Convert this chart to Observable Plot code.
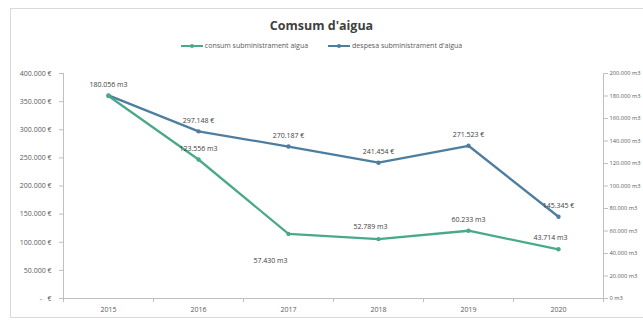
<!DOCTYPE html>
<html>
<head>
<meta charset="utf-8">
<script src="https://cdn.jsdelivr.net/npm/d3@7"></script>
<script src="https://cdn.jsdelivr.net/npm/@observablehq/plot@0.6"></script>
<style>
  body { margin: 0; background: #fff; font-family: "Open Sans", sans-serif; }
  #wrap { position: relative; width: 643px; height: 325px; overflow: hidden; }
  #frame { position: absolute; left: 10px; top: 8px; width: 640px; height: 310px; border: 1px solid #d9d9d9; box-sizing: border-box; }
  #title { position: absolute; left: 0; width: 643px; top: 17px; text-align: center; font-size: 12.5px; font-weight: bold; color: #404040; }
  #legend { position: absolute; top: 41px; left: 0; width: 643px; display: flex; justify-content: center; gap: 20px; font-size: 7px; color: #595959; }
  #legend span { display: inline-flex; align-items: center; }
  #chart { position: absolute; left: 0; top: 58px; }
</style>
</head>
<body>
<div id="wrap">
  <div id="frame"></div>
  <div id="title">Comsum d'aigua</div>
  <div id="legend"></div>
  <div id="chart"></div>
</div>
<script>
const years = [2015, 2016, 2017, 2018, 2019, 2020];
const consum = [180056, 123556, 57430, 52789, 60233, 43714];      // m3 (right axis)
const despesa = [361096, 297148, 270187, 241454, 271523, 145345]; // € (left axis)
const seriesNames = ["consum subministrament aigua", "despesa subministrament d'aigua"];
const colors = ["#4aa98b", "#4d7e9f"];
const leftTicks = [0, 50000, 100000, 150000, 200000, 250000, 300000, 350000, 400000];
const rightTicks = [0, 20000, 40000, 60000, 80000, 100000, 120000, 140000, 160000, 180000, 200000];

const loc = d3.formatLocale({decimal: ",", thousands: ".", grouping: [3], currency: ["", " €"]});
const fmt = loc.format(",d");
const ratio = 2; // 200.000 m3 on right axis = 400.000 € on left axis

const green = years.map((y, i) => ({year: y, v: consum[i] * ratio, label: fmt(consum[i]) + " m3"}));
const blue = years.map((y, i) => ({year: y, v: despesa[i], label: fmt(despesa[i]) + " €"}));

// legend
const leg = document.getElementById("legend");
seriesNames.forEach((n, i) => {
  const s = document.createElement("span");
  s.innerHTML = `<svg width="22" height="8"><line x1="0" y1="4" x2="22" y2="4" stroke="${colors[i]}" stroke-width="2"/><circle cx="11" cy="4" r="2" fill="${colors[i]}"/></svg><span style="margin-left:2px">${n}</span>`;
  leg.appendChild(s);
});

const lbl = {fontSize: 7, fill: "#404040", fontFamily: "Open Sans"};
const halfYears = d3.range(years[0] - 0.5, years[years.length - 1] + 1, 1);

const plot = Plot.plot({
  width: 643, height: 267,
  marginLeft: 63, marginRight: 40, marginTop: 15, marginBottom: 27,
  style: {fontFamily: "Open Sans", fontSize: "7px", color: "#595959", background: "transparent"},
  x: {domain: [years[0] - 0.5, years[years.length - 1] + 0.5], label: null},
  y: {domain: [0, 400000], label: null},
  marks: [
    Plot.ruleY([0], {stroke: "#bfbfbf"}),
    Plot.ruleX([years[0] - 0.5], {stroke: "#bfbfbf"}),
    Plot.ruleX([years[years.length - 1] + 0.5], {stroke: "#bfbfbf"}),
    Plot.axisX({ticks: years, tickFormat: d => String(d), tickSize: 0, tickPadding: 9, fill: "#595959", label: null}),
    Plot.ruleX(halfYears, {x: d => d, y1: 0, y2: 0, insetBottom: -4, stroke: "#bfbfbf"}),
    Plot.axisY({ticks: leftTicks, anchor: "left", tickSize: 4, tickPadding: 8, stroke: "#bfbfbf", fill: "#595959",
      tickFormat: d => d === 0 ? "-   €" : fmt(d) + " €", label: null}),
    Plot.axisY({ticks: rightTicks.map(d => d * ratio), anchor: "right", tickSize: 4, tickPadding: 2, stroke: "#bfbfbf", fill: "#595959",
      fontSize: 5.7, tickFormat: d => fmt(d / ratio) + " m3", label: null}),
    Plot.line(blue, {x: "year", y: "v", stroke: colors[1], strokeWidth: 2.3}),
    Plot.dot(blue, {x: "year", y: "v", r: 2.2, fill: colors[1]}),
    Plot.line(green, {x: "year", y: "v", stroke: colors[0], strokeWidth: 2.3}),
    Plot.dot(green, {x: "year", y: "v", r: 2.2, fill: colors[0]}),
    // labels
    Plot.text(blue.filter(d => d.year !== 2015), {x: "year", y: "v", text: "label", dy: -11, ...lbl}),
    Plot.text(green.filter(d => [2015, 2016, 2019].includes(d.year)), {x: "year", y: "v", text: "label", dy: -11, ...lbl}),
    Plot.text(green.filter(d => [2018, 2020].includes(d.year)), {x: "year", y: "v", text: "label", dx: -8, dy: -12, ...lbl}),
    Plot.text(green.filter(d => d.year === 2017), {x: "year", y: "v", text: "label", dx: -18, dy: 27, ...lbl})
  ]
});
document.getElementById("chart").appendChild(plot);
</script>
</body>
</html>
